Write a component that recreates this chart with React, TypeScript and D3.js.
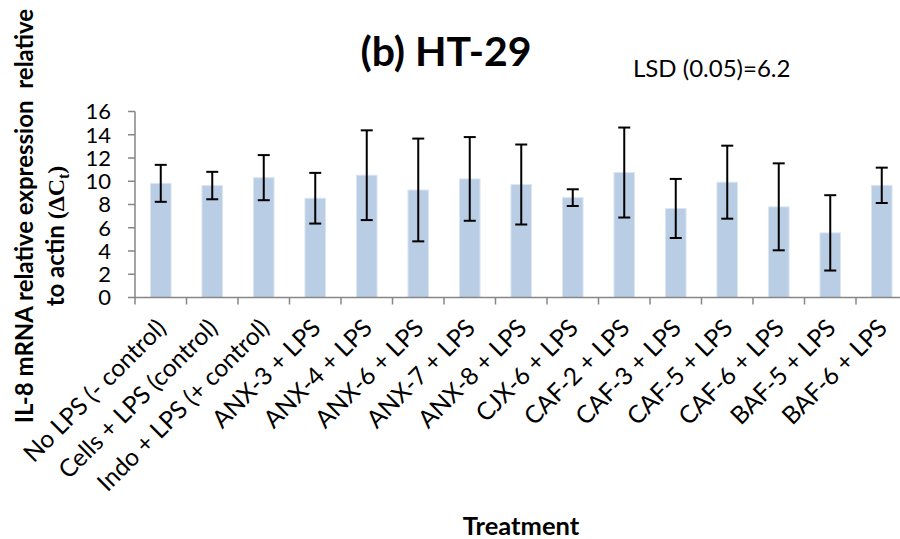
import React from "react";
import * as d3 from "d3";

const categories = [
  "No LPS (- control)",
  "Cells + LPS (control)",
  "Indo + LPS (+ control)",
  "ANX-3 + LPS",
  "ANX-4 + LPS",
  "ANX-6 + LPS",
  "ANX-7 + LPS",
  "ANX-8 + LPS",
  "CJX-6 + LPS",
  "CAF-2 + LPS",
  "CAF-3 + LPS",
  "CAF-5 + LPS",
  "CAF-6 + LPS",
  "BAF-5 + LPS",
  "BAF-6 + LPS",
];
const means = [9.82, 9.63, 10.31, 8.54, 10.52, 9.25, 10.2, 9.72, 8.59, 10.75, 7.66, 9.92, 7.8, 5.56, 9.65];
const errors = [1.59, 1.18, 1.94, 2.18, 3.86, 4.42, 3.6, 3.44, 0.72, 3.87, 2.54, 3.14, 3.74, 3.24, 1.52];
const yTicks = [0, 2, 4, 6, 8, 10, 12, 14, 16];

const FONT = "Lato, 'Open Sans', sans-serif";

export default function App() {
  const x = d3
    .scaleBand<string>()
    .domain(categories)
    .range([135, 907.5])
    .paddingInner(0.6)
    .paddingOuter(0.3);
  const y = d3.scaleLinear().domain([0, 16]).range([297.5, 111.5]);
  const step = x.step();
  const x0 = 135;
  const axisColor = "#868686";
  const capW = 12;

  return (
    <svg
      width={900}
      height={539}
      style={{ position: "absolute", left: 0, top: 0, background: "#fff" }}
      fontFamily={FONT}
    >
      <rect x={0} y={0} width={900} height={539} fill="#fff" />
      {/* bars */}
      {categories.map((c, i) => (
        <rect
          key={c}
          x={x(c)}
          y={y(means[i])}
          width={x.bandwidth()}
          height={y(0) - y(means[i])}
          fill="#B9CDE5"
          stroke="#DCE6F2"
          strokeWidth={1}
        />
      ))}
      {/* error bars */}
      {categories.map((c, i) => {
        const cx = (x(c) as number) + x.bandwidth() / 2;
        const yt = y(means[i] + errors[i]);
        const yb = y(means[i] - errors[i]);
        return (
          <g key={"e" + c} stroke="#000" strokeWidth={2}>
            <line x1={cx} x2={cx} y1={yt} y2={yb} />
            <line x1={cx - capW / 2} x2={cx + capW / 2} y1={yt} y2={yt} />
            <line x1={cx - capW / 2} x2={cx + capW / 2} y1={yb} y2={yb} />
          </g>
        );
      })}
      {/* y axis */}
      <line x1={x0} x2={x0} y1={y(16)} y2={y(0)} stroke={axisColor} strokeWidth={1.5} />
      {yTicks.map((t) => (
        <g key={"yt" + t}>
          <line x1={x0 - 7} x2={x0} y1={y(t)} y2={y(t)} stroke={axisColor} strokeWidth={1.5} />
          <text x={111} y={y(t)} dy="0.36em" textAnchor="end" fontSize={22} fill="#000">
            {t}
          </text>
        </g>
      ))}
      {/* x axis */}
      <line x1={x0} x2={907.5} y1={y(0)} y2={y(0)} stroke={axisColor} strokeWidth={1.5} />
      {d3.range(categories.length + 1).map((i) => (
        <line
          key={"xt" + i}
          x1={x0 + i * step}
          x2={x0 + i * step}
          y1={y(0)}
          y2={y(0) + 7}
          stroke={axisColor}
          strokeWidth={1.5}
        />
      ))}
      {categories.map((c) => {
        const cx = (x(c) as number) + x.bandwidth() / 2;
        return (
          <text
            key={"xl" + c}
            transform={`translate(${cx + 7},${y(0) + 32}) rotate(-45)`}
            textAnchor="end"
            fontSize={24.5}
            fill="#000"
          >
            {c}
          </text>
        );
      })}
      {/* titles */}
      <text x={446} y={66} textAnchor="middle" fontSize={41} fontWeight="bold" fill="#000">
        (b) HT-29
      </text>
      <text x={633} y={77} fontSize={24} fill="#000">
        LSD (0.05)=6.2
      </text>
      <text x={521} y={535} textAnchor="middle" fontSize={25.5} fontWeight="bold" fill="#000">
        Treatment
      </text>
      <text
        transform={`translate(33,216) rotate(-90)`}
        textAnchor="middle"
        fontSize={24}
        fontWeight="bold"
        fill="#000"
        style={{ whiteSpace: "pre" }}
      >
        {"IL-8 mRNA relative expression  relative"}
      </text>
      <text
        transform={`translate(64,236) rotate(-90)`}
        textAnchor="middle"
        fontSize={24}
        fontWeight="bold"
        fill="#000"
      >
        {"to actin "}
        <tspan fontFamily="'Liberation Serif', serif">(ΔC</tspan>
        <tspan fontFamily="'Liberation Serif', serif" fontSize={16} dy={5}>
          t
        </tspan>
        <tspan fontFamily="'Liberation Serif', serif" dy={-5}>
          )
        </tspan>
      </text>
    </svg>
  );
}
